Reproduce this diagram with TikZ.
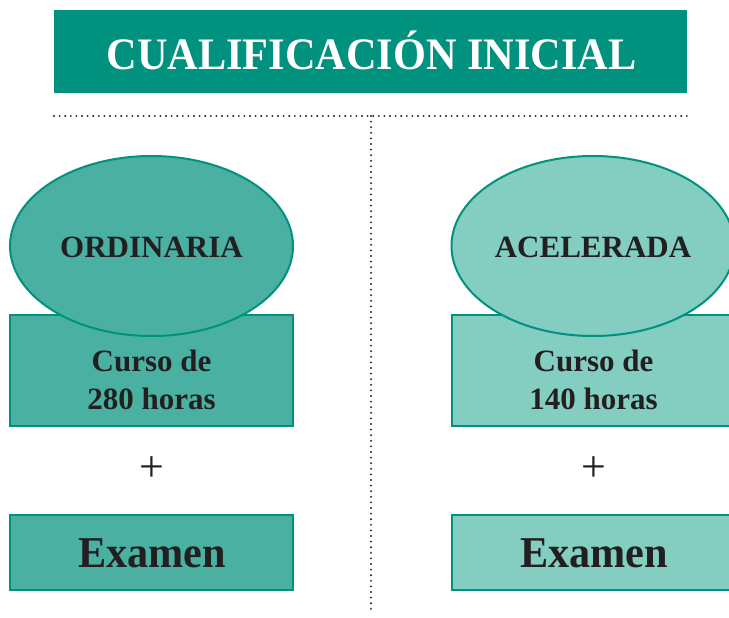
\documentclass[tikz,border=0pt]{standalone}
\usepackage{fontspec}
\setmainfont{Liberation Serif}
\usetikzlibrary{shapes.geometric}
\definecolor{teal1}{HTML}{00927E}
\definecolor{fillA}{HTML}{49B0A2}
\definecolor{fillB}{HTML}{83CEC1}
\definecolor{ink}{HTML}{231F20}
\tikzset{
  shapeA/.style={draw=teal1, line width=2pt, fill=fillA},
  shapeB/.style={draw=teal1, line width=2pt, fill=fillB},
  ovalbox/.style={ellipse, minimum width=283pt, minimum height=180pt, inner sep=0pt},
  coursebox/.style={rectangle, minimum width=283pt, minimum height=111pt, inner sep=0pt},
  exambox/.style={rectangle, minimum width=283pt, minimum height=75pt, inner sep=0pt},
  lbl/.style={text=ink, font=\bfseries\fontsize{31}{38}\selectfont, align=center, inner sep=0pt},
  plussign/.style={text=ink, font=\fontsize{44}{44}\selectfont, inner sep=0pt},
  examtxt/.style={text=ink, font=\bfseries\fontsize{44}{44}\selectfont, inner sep=0pt},
  dotline/.style={ink, line width=2.1pt, line cap=round, dash pattern=on 0pt off 5.6pt}
}
\begin{document}
\begin{tikzpicture}[x=1pt,y=-1pt]
\useasboundingbox (0,0) rectangle (729,618);
\clip (0,0) rectangle (729,618);
% title
\node[rectangle, fill=teal1, minimum width=633pt, minimum height=83pt, inner sep=0pt] (title) at (370.5,51.5) {};
\node[text=white, font=\bfseries\fontsize{45}{45}\selectfont, inner sep=0pt] (titletxt) at (371.5,50) {\scalebox{0.94}[1]{CUALIFICACIÓN INICIAL}};
% dotted separators
\coordinate (hl) at (54,116);
\coordinate (hr) at (687,116);
\coordinate (vt) at (371,116);
\coordinate (vb) at (371,612);
\draw[dotline] (hl) -- (hr);
\draw[dotline] (vt) -- (vb);
% left column
\node[shapeA, coursebox] (courseA) at (151.5,370.5) {};
\node[shapeA, ovalbox] (ovalA) at (151.5,246) {};
\node[lbl] (ordtxt) at (151.5,247) {ORDINARIA};
\node[lbl] (courseAtxt) at (151.5,380) {Curso de\\280 horas};
\node[plussign] (plusA) at (151.5,469) {+};
\node[shapeA, exambox] (examA) at (151.5,552.5) {};
\node[examtxt] (examAtxt) at (152,553) {\scalebox{0.96}[1]{Examen}};
% right column
\node[shapeB, coursebox] (courseB) at (593.5,370.5) {};
\node[shapeB, ovalbox] (ovalB) at (593,246) {};
\node[lbl] (acetxt) at (593,247) {ACELERADA};
\node[lbl] (courseBtxt) at (593.5,380) {Curso de\\140 horas};
\node[plussign] (plusB) at (593.5,469) {+};
\node[shapeB, exambox] (examB) at (593.5,552.5) {};
\node[examtxt] (examBtxt) at (594,553) {\scalebox{0.96}[1]{Examen}};
\end{tikzpicture}
\end{document}
